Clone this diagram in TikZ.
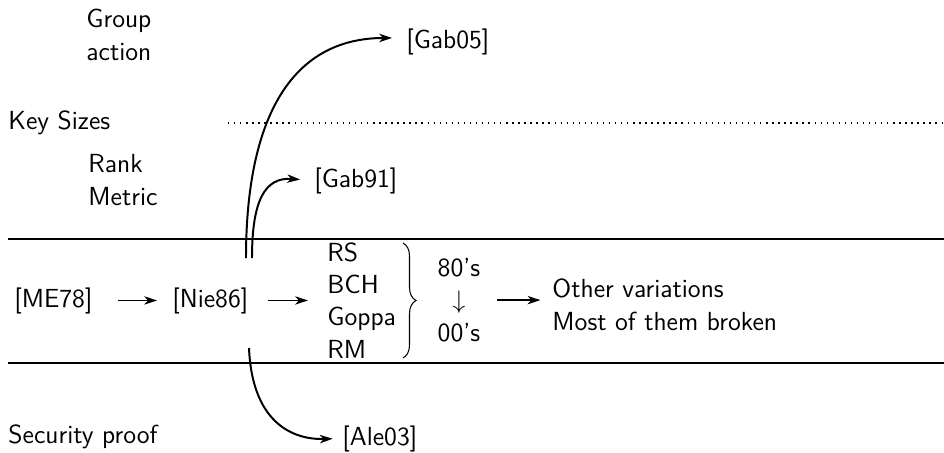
\documentclass[tikz,border=0pt]{standalone}
\usetikzlibrary{arrows.meta,decorations.pathreplacing}
\begin{document}
\begin{tikzpicture}[
  x=0.43pt, y=-0.43pt,
  every node/.style={inner sep=0pt, font=\fontsize{11.25}{13.8}\selectfont\sffamily},
  lbl/.style={anchor=base west, align=left},
  arr/.style={-{Stealth[length=5.5pt,width=3.6pt,inset=1.6pt]}, line width=0.55pt},
  curvearr/.style={-{Stealth[length=5.5pt,width=3.6pt,inset=1.6pt]}, line width=0.85pt},
  rule/.style={line width=0.85pt},
]
\path[use as bounding box] (0,0) rectangle (944,453);

% band boundaries
\draw[rule] (8,239) -- (944,239);
\draw[rule] (8,363) -- (944,363);
\draw[line width=0.6pt, dotted] (228,123) -- (944,123);

% row labels (multi-line nodes are placed by the baseline of their last line)
\node[lbl] (ga) at (86,60) {Group\\action};
\node[lbl] (ks) at (8,129) {Key Sizes};
\node[lbl] (rm) at (88,205) {Rank\\Metric};
\node[lbl] (sp) at (8,443) {Security proof};

% references
\node[lbl] (gab05) at (406,48) {[Gab05]};
\node[lbl] (gab91) at (314,187) {[Gab91]};
\node[lbl] (ale03) at (342,445) {[Ale03]};
\node[lbl] (me78) at (14,307) {[ME78]};
\node[lbl] (nie86) at (172,307) {[Nie86]};

% code families and their fate
\node[lbl] (codes) at (327,358) {RS\\BCH\\Goppa\\RM};
\node[anchor=base, align=center] (dec) at (459,341) {80’s\\$\downarrow$\\00’s};
\node[lbl] (other) at (552,330) {Other variations\\Most of them broken};

\draw[decorate, decoration={brace, amplitude=5.6pt}, line width=0.45pt]
  (403,243) -- (403,358);

% main chain
\draw[arr, shorten <=10.75pt, shorten >=6.45pt] (me78.east) -- (me78.east -| nie86.west);
\draw[arr, shorten <=8.2pt, shorten >=8.2pt] (nie86.east) -- (nie86.east -| codes.west);
\draw[arr, shorten <=7pt, shorten >=5pt] (dec.east) -- (dec.east -| other.west);

% branches out of [Nie86]
\coordinate (n1) at (246,258);
\coordinate (n2) at (252,258);
\coordinate (n3) at (249,348);
\draw[curvearr, shorten >=6pt] (n1) .. controls (246,120) and (290,38) .. ([yshift=1.5pt]gab05.west);
\draw[curvearr, shorten >=6pt] (n2) .. controls (252,200) and (265,177) .. (gab91.west);
\draw[curvearr, shorten >=4pt] (n3) .. controls (252,420) and (290,440) .. (ale03.west);
\end{tikzpicture}
\end{document}
